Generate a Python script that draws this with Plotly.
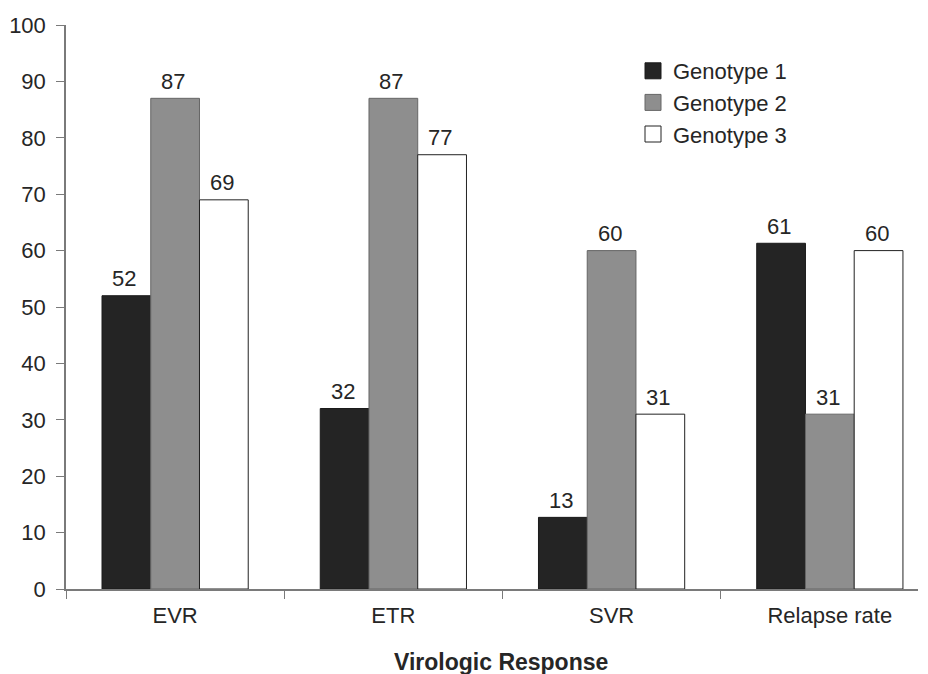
import plotly.graph_objects as go

categories = ["EVR", "ETR", "SVR", "Relapse rate"]
genotype1 = [52, 32, 12.7, 61.3]
genotype2 = [87, 87, 60, 31]
genotype3 = [69, 77, 31, 60]
series_names = ["Genotype 1", "Genotype 2", "Genotype 3"]
y_ticks = list(range(0, 101, 10))

colors = ["#242424", "#8e8e8e", "#ffffff"]
lines = ["#1a1a1a", "#666666", "#222222"]
FONT = "Liberation Sans, Arial"
TXT = "#262626"

# Page body has an 8px default margin, so the figure is shrunk by 8px.
W, H = 920, 666
ML, MT, MR, MB = 58, 17, 10, 85
plot_w = W - ML - MR
plot_h = H - MT - MB
BARGAP = 0.33
cat_px = plot_w / 3.904
bar_px = cat_px * (1 - BARGAP) / 3

fig = go.Figure()
all_series = [genotype1, genotype2, genotype3]
for name, vals, c, lc in zip(series_names, all_series, colors, lines):
    fig.add_trace(go.Bar(
        x=categories, y=vals, name=name, showlegend=False,
        marker=dict(color=c, line=dict(color=lc, width=1)),
    ))
# legend entries with larger square swatches
for name, c, lc in zip(series_names, colors, lines):
    fig.add_trace(go.Scatter(
        x=[None], y=[None], mode="markers", name=name,
        marker=dict(symbol="square", size=16, color=c, line=dict(color=lc, width=1)),
    ))

annotations = []
for i, vals in enumerate(all_series):
    for cat, v in zip(categories, vals):
        annotations.append(dict(
            x=cat, y=v, xref="x", yref="y", text=f"{v:.0f}", showarrow=False,
            xshift=(i - 1) * bar_px - 2, yshift=17, yanchor="middle",
            font=dict(family=FONT, size=22, color=TXT),
        ))
annotations.append(dict(
    text="<b>Virologic Response</b>", xref="paper", yref="paper",
    x=(493 - ML) / plot_w, y=(H - MB - 654) / plot_h,
    xanchor="center", yanchor="middle", showarrow=False,
    font=dict(family=FONT, size=23, color=TXT),
))

fig.update_layout(
    width=W, height=H,
    margin=dict(l=ML, r=MR, t=MT, b=MB, autoexpand=False),
    paper_bgcolor="white", plot_bgcolor="white",
    barmode="group", bargap=BARGAP, bargroupgap=0,
    font=dict(family=FONT, size=20, color=TXT),
    showlegend=True,
    legend=dict(x=(625 - ML) / plot_w, y=1 - (42 - MT) / plot_h,
                xanchor="left", yanchor="top",
                font=dict(family=FONT, size=22, color=TXT), bgcolor="rgba(0,0,0,0)",
                itemwidth=30, tracegroupgap=0),
    xaxis=dict(
        type="category", range=[-0.5, 3.404],
        showline=True, linecolor="#7a7a7a", linewidth=1.5,
        ticks="outside", tickson="boundaries", ticklen=8, tickcolor="#7a7a7a",
        ticklabelstandoff=6,
        tickfont=dict(family=FONT, size=22, color=TXT),
        showgrid=False, zeroline=False, automargin=False,
    ),
    yaxis=dict(
        range=[0, 100], tickvals=y_ticks,
        showline=True, linecolor="#7a7a7a", linewidth=1.5,
        ticks="outside", ticklen=8, tickcolor="#7a7a7a",
        ticklabelstandoff=6,
        tickfont=dict(family=FONT, size=22, color=TXT),
        showgrid=False, zeroline=False, automargin=False,
    ),
    annotations=annotations,
)

fig.write_html("out.html")
